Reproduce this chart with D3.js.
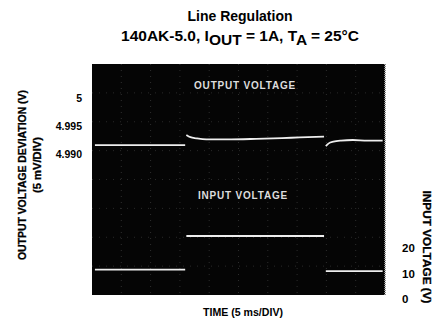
<!DOCTYPE html>
<html>
<head>
<meta charset="utf-8">
<script src="https://cdn.jsdelivr.net/npm/d3@7"></script>
<style>
  body { margin: 0; background: #fff; }
  text { font-family: "Liberation Sans", Arial, Helvetica, sans-serif; font-weight: bold; }
</style>
</head>
<body>
<svg id="chart" width="435" height="323"></svg>
<script>
// time axis: 5 ms/div, 10 divisions
const timeDomain = [0, 50];
const timeDivs = d3.range(0, 51, 5);

// output voltage trace (V), breaks marked with null
const outTime = [0.5, 15.9, null, 16.1, 16.8, 17.8, 19.5, 23, 28, 34, 39.6, null, 39.9, 40.4, 41.2, 42.5, 44.5, 47, 49.6];
const outVolt = [4.9916, 4.9916, null, 4.9934, 4.9930, 4.9928, 4.9926, 4.9926, 4.9927, 4.9929, 4.9931, null, 4.9914, 4.9919, 4.9922, 4.9924, 4.9925, 4.9924, 4.9924];

// input voltage trace (V)
const inTime = [0.5, 15.9, null, 16.1, 39.6, null, 39.9, 49.6];
const inVolt = [11.5, 11.5, null, 24.7, 24.7, null, 10.9, 10.9];

// tick labels
const outTicks = [5, 4.995, 4.990];
const outTickLabels = ['5', '4.995', '4.990'];
const inTicks = [20, 10, 0];

const svg = d3.select('#chart');
const plot = { left: 92, right: 385, top: 64, bottom: 295 };

const x = d3.scaleLinear().domain(timeDomain).range([plot.left, plot.right]);
const yOut = d3.scaleLinear().domain([4.990, 5]).range([154, 98]);
const yIn = d3.scaleLinear().domain([0, 20]).range([299, 248]);

// title
svg.append('text')
  .attr('x', 240).attr('y', 21)
  .attr('text-anchor', 'middle')
  .attr('font-size', 14)
  .text('Line Regulation');

const sub = svg.append('text')
  .attr('x', 240).attr('y', 41)
  .attr('text-anchor', 'middle')
  .attr('font-size', 15.5);
sub.append('tspan').text('140AK-5.0, I');
sub.append('tspan').attr('dy', 4).text('OUT');
sub.append('tspan').attr('dy', -4).text(' = 1A, T');
sub.append('tspan').attr('dy', 4).text('A');
sub.append('tspan').attr('dy', -4).text(' = 25°C');

// scope screen
svg.append('rect')
  .attr('x', plot.left).attr('y', plot.top)
  .attr('width', plot.right - plot.left)
  .attr('height', plot.bottom - plot.top)
  .attr('fill', '#050505');

svg.append('line')
  .attr('x1', plot.right).attr('x2', plot.right)
  .attr('y1', plot.top).attr('y2', plot.bottom)
  .attr('stroke', '#888').attr('stroke-width', 2)
  .attr('stroke-dasharray', '1,1');

// graticule
const g = svg.append('g');
g.selectAll('line.v')
  .data(timeDivs.slice(1, -1))
  .enter().append('line')
  .attr('class', 'v')
  .attr('x1', d => x(d)).attr('x2', d => x(d))
  .attr('y1', plot.top).attr('y2', plot.bottom)
  .attr('stroke', '#555').attr('stroke-width', 1)
  .attr('stroke-dasharray', '1,5')
  .attr('opacity', 0.5);

const hDivs = d3.range(1, 8).map(i => plot.top + i * (plot.bottom - plot.top) / 8);
g.selectAll('line.h')
  .data(hDivs)
  .enter().append('line')
  .attr('class', 'h')
  .attr('x1', plot.left).attr('x2', plot.right)
  .attr('y1', d => d).attr('y2', d => d)
  .attr('stroke', '#555').attr('stroke-width', 1)
  .attr('stroke-dasharray', '1,6')
  .attr('opacity', 0.45);

// traces
const outData = outTime.map((t, i) => ({ t, v: outVolt[i] }));
const inData = inTime.map((t, i) => ({ t, v: inVolt[i] }));

svg.append('path')
  .datum(outData)
  .attr('fill', 'none')
  .attr('stroke', '#eee')
  .attr('stroke-width', 1.8)
  .attr('d', d3.line()
    .defined(d => d.t !== null)
    .curve(d3.curveMonotoneX)
    .x(d => x(d.t))
    .y(d => yOut(d.v)));

svg.append('path')
  .datum(inData)
  .attr('fill', 'none')
  .attr('stroke', '#eee')
  .attr('stroke-width', 1.8)
  .attr('d', d3.line()
    .defined(d => d.t !== null)
    .x(d => x(d.t))
    .y(d => yIn(d.v)));

// trace labels
svg.append('text')
  .attr('x', 245).attr('y', 89)
  .attr('text-anchor', 'middle')
  .attr('font-size', 10).attr('font-weight', 'normal')
  .attr('letter-spacing', 0.8)
  .attr('fill', '#ddd')
  .text('OUTPUT VOLTAGE');

svg.append('text')
  .attr('x', 243).attr('y', 199)
  .attr('text-anchor', 'middle')
  .attr('font-size', 10).attr('font-weight', 'normal')
  .attr('letter-spacing', 0.8)
  .attr('fill', '#ddd')
  .text('INPUT VOLTAGE');

// left axis labels
const leftAxis = svg.append('g')
  .attr('transform', 'translate(82,0)')
  .call(d3.axisLeft(yOut).tickValues(outTicks).tickSize(0).tickPadding(0)
    .tickFormat((d, i) => outTickLabels[i]));
leftAxis.select('.domain').remove();
leftAxis.selectAll('text')
  .attr('font-size', 10.5)
  .attr('font-family', '"Liberation Sans Narrow", "DejaVu Sans Condensed", sans-serif')
  .attr('font-weight', 'bold')
  .attr('fill', '#000');

// right axis labels
const rightAxis = svg.append('g')
  .attr('transform', 'translate(402,0)')
  .call(d3.axisRight(yIn).tickValues(inTicks).tickSize(0).tickPadding(0));
rightAxis.select('.domain').remove();
rightAxis.selectAll('text')
  .attr('font-size', 11.5)
  .attr('font-family', '"Liberation Sans Narrow", "DejaVu Sans Condensed", sans-serif')
  .attr('font-weight', 'bold')
  .attr('fill', '#000');

// axis titles
svg.append('text')
  .attr('transform', 'translate(26,175) rotate(-90)')
  .attr('text-anchor', 'middle')
  .attr('font-size', 11)
  .attr('stroke', '#000').attr('stroke-width', 0.3)
  .attr('textLength', 170).attr('lengthAdjust', 'spacingAndGlyphs')
  .text('OUTPUT VOLTAGE DEVIATION (V)');

svg.append('text')
  .attr('transform', 'translate(41,165) rotate(-90)')
  .attr('text-anchor', 'middle')
  .attr('font-size', 11)
  .attr('stroke', '#000').attr('stroke-width', 0.3)
  .attr('textLength', 56).attr('lengthAdjust', 'spacingAndGlyphs')
  .text('(5 mV/DIV)');

svg.append('text')
  .attr('transform', 'translate(423,247) rotate(90)')
  .attr('text-anchor', 'middle')
  .attr('font-size', 11)
  .attr('stroke', '#000').attr('stroke-width', 0.3)
  .attr('textLength', 113).attr('lengthAdjust', 'spacingAndGlyphs')
  .text('INPUT VOLTAGE (V)');

svg.append('text')
  .attr('x', 243).attr('y', 316)
  .attr('text-anchor', 'middle')
  .attr('font-size', 10.5)
  .attr('textLength', 80).attr('lengthAdjust', 'spacingAndGlyphs')
  .text('TIME (5 ms/DIV)');
</script>
</body>
</html>
